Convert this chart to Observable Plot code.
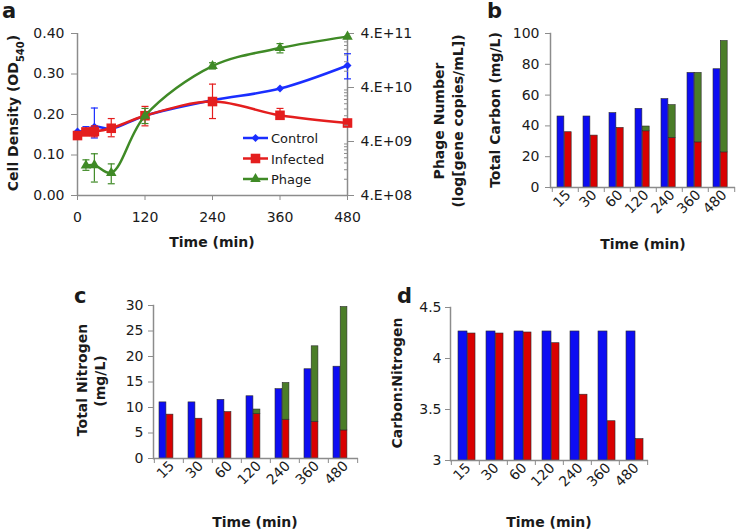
<!DOCTYPE html>
<html><head><meta charset="utf-8">
<script src="https://cdn.jsdelivr.net/npm/d3@7"></script>
<script src="https://cdn.jsdelivr.net/npm/@observablehq/plot@0.6"></script>
<style>
body{margin:0;background:#fff;}
#root{position:relative;width:746px;height:532px;overflow:hidden;background:#fff;}
</style></head><body><div id="root"></div>
<script>
// ---------- Panel a data ----------
const timeA = [0, 15, 30, 60, 120, 240, 360, 480];
const controlOD = [0.158, 0.160, 0.170, 0.165, 0.197, 0.235, 0.264, 0.321];
const controlLo = [null, 0.150, 0.142, null, null, null, null, 0.288];
const controlHi = [null, 0.170, 0.216, null, null, null, null, 0.350];
const infectedOD = [0.148, 0.157, 0.158, 0.166, 0.197, 0.232, 0.198, 0.179];
const infectedLo = [null, 0.150, 0.145, 0.145, 0.172, 0.190, 0.188, null];
const infectedHi = [null, 0.165, 0.172, 0.190, 0.220, 0.275, 0.215, null];
const timePhage = [15, 30, 60, 120, 240, 360, 480];
const phageNum = [1.44e9, 1.46e9, 1.05e9, 1.2e10, 1.0e11, 2.15e11, 3.5e11];
const phageLo = [1.17e9, 7.1e8, 6.6e8, 8.6e9, 8.8e10, 1.75e11, null];
const phageHi = [1.83e9, 2.37e9, 1.54e9, 1.64e10, 1.15e11, 2.6e11, null];
const xTicksA = [0, 120, 240, 360, 480];
const yTicksA = [0, 0.1, 0.2, 0.3, 0.4];
const phageTicks = [4e8, 4e9, 4e10, 4e11];
const phageTickLabels = ["4.E+08", "4.E+09", "4.E+10", "4.E+11"];
const seriesNames = ["Control", "Infected", "Phage"];

// ---------- Bar panels data ----------
const categories = ["15", "30", "60", "120", "240", "360", "480"];
const carbonControl = [46.1, 46.1, 48.3, 51.1, 57.4, 74.4, 76.8];
const carbonInfected = [35.9, 33.7, 38.7, 36.5, 32.2, 29.3, 22.8];
const carbonPhage = [0, 0, 0, 3.1, 21.3, 45.1, 72.3];
const carbonTicks = [0, 20, 40, 60, 80, 100];
const nitrogenControl = [11.0, 11.0, 11.5, 12.2, 13.6, 17.5, 18.0];
const nitrogenInfected = [8.6, 7.8, 9.1, 8.7, 7.6, 7.2, 5.5];
const nitrogenPhage = [0, 0, 0, 0.9, 7.2, 14.8, 24.2];
const nitrogenTicks = [0, 5, 10, 15, 20, 25, 30];
const ratioControl = [4.265, 4.265, 4.265, 4.265, 4.265, 4.265, 4.265];
const ratioInfected = [4.245, 4.245, 4.255, 4.15, 3.645, 3.385, 3.21];
const ratioTicks = [3, 3.5, 4, 4.5];

// ---------- styles ----------
const FONT = "DejaVu Sans, sans-serif";
const gray = "#8c8c8c";
const blue = "#1a2eff", red = "#e41e1e", green = "#3f8a26";
const barBlue = "#0d0df2", barRed = "#d90000", barGreen = "#4b7d28";
const styleBase = {fontFamily: FONT, fontSize: "14px", color: "#1a1a1a", background: "transparent", overflow: "visible"};
const root = document.getElementById("root");
function place(svg, left, top) {
  svg.style.position = "absolute"; svg.style.left = left + "px"; svg.style.top = top + "px";
  svg.style.overflow = "visible"; svg.style.maxWidth = "none";
  root.appendChild(svg); return svg;
}
const cap = {draw(ctx) { ctx.moveTo(-3.5, 0); ctx.lineTo(3.5, 0); }};

// ---------- Panel a (left axis, OD) ----------
const rowsA = timeA.map((t, i) => ({t, control: controlOD[i], cLo: controlLo[i], cHi: controlHi[i],
  infected: infectedOD[i], iLo: infectedLo[i], iHi: infectedHi[i]}));
const errC = rowsA.filter(d => d.cLo != null);
const errI = rowsA.filter(d => d.iLo != null);
const dimA = {width: 470, height: 240, marginLeft: 77, marginRight: 123, marginTop: 33, marginBottom: 45};

const plotA = Plot.plot({
  ...dimA, style: styleBase,
  x: {domain: [0, 480]}, y: {domain: [0, 0.4]},
  marks: [
    Plot.axisY({ticks: yTicksA, tickFormat: d3.format(".2f"), tickSize: 6, tickPadding: 7, label: null, stroke: gray}),
    Plot.axisX({ticks: xTicksA, tickSize: 5, tickPadding: 12, label: null, stroke: gray}),
    Plot.ruleX([0, 480], {stroke: gray, strokeWidth: 1.5}),
    Plot.ruleY([0], {stroke: gray, strokeWidth: 1.5}),
    Plot.ruleX(errC, {x: "t", y1: "cLo", y2: "cHi", stroke: blue, strokeWidth: 1.2}),
    Plot.dot(errC, {x: "t", y: "cLo", symbol: cap, stroke: blue, fill: "none", strokeWidth: 1.2}),
    Plot.dot(errC, {x: "t", y: "cHi", symbol: cap, stroke: blue, fill: "none", strokeWidth: 1.2}),
    Plot.line(rowsA, {x: "t", y: "control", stroke: blue, strokeWidth: 2.5, curve: "catmull-rom"}),
    Plot.dot(rowsA, {x: "t", y: "control", symbol: "diamond2", r: 3.6, fill: blue}),
    Plot.ruleX(errI, {x: "t", y1: "iLo", y2: "iHi", stroke: red, strokeWidth: 1.2}),
    Plot.dot(errI, {x: "t", y: "iLo", symbol: cap, stroke: red, fill: "none", strokeWidth: 1.2}),
    Plot.dot(errI, {x: "t", y: "iHi", symbol: cap, stroke: red, fill: "none", strokeWidth: 1.2}),
    Plot.line(rowsA, {x: "t", y: "infected", stroke: red, strokeWidth: 2.5, curve: "catmull-rom"}),
    Plot.dot(rowsA, {x: "t", y: "infected", symbol: "square", r: 5.4, fill: red})
  ]
});
place(plotA, 0, 0);

// ---------- Panel a (right axis, phage, log) ----------
const rowsP = timePhage.map((t, i) => ({t, v: phageNum[i], lo: phageLo[i], hi: phageHi[i]}));
const errP = rowsP.filter(d => d.lo != null);
const minorP = [];
for (const b of phageTicks.slice(0, 3)) for (const k of [2, 3, 4, 5, 6, 7, 8, 9]) minorP.push(b * k);
const plotP = Plot.plot({
  ...dimA, style: styleBase,
  x: {domain: [0, 480], axis: null},
  y: {type: "log", domain: [4e8, 4e11], axis: null},
  marks: [
    Plot.axisY({anchor: "right", ticks: phageTicks, tickFormat: () => "", tickSize: 6, label: null, stroke: gray}),
    Plot.axisY({anchor: "right", ticks: minorP, tickFormat: () => "", tickSize: 4, dx: -4, label: null, stroke: gray}),
    Plot.text(phageTicks, {x: 480, y: d => d, text: (d, i) => phageTickLabels[i], textAnchor: "start", dx: 13, fontSize: 14, fill: "#1a1a1a"}),
    Plot.ruleX(errP, {x: "t", y1: "lo", y2: "hi", stroke: green, strokeWidth: 1.2}),
    Plot.dot(errP, {x: "t", y: "lo", symbol: cap, stroke: green, fill: "none", strokeWidth: 1.2}),
    Plot.dot(errP, {x: "t", y: "hi", symbol: cap, stroke: green, fill: "none", strokeWidth: 1.2}),
    Plot.line(rowsP, {x: "t", y: "v", stroke: green, strokeWidth: 2.5, curve: "catmull-rom"}),
    Plot.dot(rowsP, {x: "t", y: "v", symbol: "triangle", r: 3.9, fill: green})
  ]
});
place(plotP, 0, 0);

// ---------- Bar panels ----------
function barPanel(o) {
  const bw = (o.width - o.ml - o.mr) / categories.length;
  const rows = categories.map((c, i) => ({c, ctrl: o.ctrl[i], inf: o.inf[i], ph: o.ph ? o.ph[i] : 0}));
  const base = o.ydomain[0];
  const marks = [
    Plot.axisY({ticks: o.yticks, tickFormat: d => String(d), tickSize: 5, tickPadding: o.tp, label: null, stroke: gray}),
    Plot.axisX({tickSize: 5, dx: -bw / 2, tickFormat: () => "", label: null, stroke: gray}),
    Plot.axisX({ticks: [categories[categories.length - 1]], tickSize: 5, dx: bw / 2, tickFormat: () => "", label: null, stroke: gray}),
    Plot.axisX({tickSize: 0, tickRotate: -45, tickPadding: o.xp, dx: 3, label: null}),
    Plot.barY(rows, {x: "c", y1: base, y2: "ctrl", fill: barBlue, stroke: "#2a2a2a", strokeWidth: 0.6,
      insetLeft: o.blue[0], insetRight: bw - o.blue[1]}),
    Plot.barY(rows, {x: "c", y1: base, y2: "inf", fill: barRed, stroke: "#2a2a2a", strokeWidth: 0.6,
      insetLeft: o.red[0], insetRight: bw - o.red[1]})
  ];
  if (o.ph) marks.push(Plot.barY(rows.filter(d => d.ph > 0), {x: "c", y1: "inf", y2: d => d.inf + d.ph,
      fill: barGreen, stroke: "#2a2a2a", strokeWidth: 0.6, insetLeft: o.red[0], insetRight: bw - o.red[1]}));
  marks.push(Plot.ruleY([base], {stroke: gray, strokeWidth: 1.5}));
  marks.push(Plot.frame({anchor: "left", stroke: gray, strokeWidth: 1.5}));
  return Plot.plot({width: o.width, height: o.height, marginLeft: o.ml, marginRight: o.mr,
    marginTop: o.mt, marginBottom: o.mb, style: styleBase,
    x: {domain: categories, padding: 0}, y: {domain: o.ydomain}, marks});
}
place(barPanel({width: 256, height: 250, ml: 60, mr: 11, mt: 33, mb: 63, ydomain: [0, 100], yticks: carbonTicks, tp: 6, xp: 5,
  ctrl: carbonControl, inf: carbonInfected, ph: carbonPhage, blue: [5, 12.3], red: [12.3, 19.6]}), 490, 0);
place(barPanel({width: 380, height: 282, ml: 153, mr: 22, mt: 55, mb: 74, ydomain: [0, 30], yticks: nitrogenTicks, tp: 5, xp: 5,
  ctrl: nitrogenControl, inf: nitrogenInfected, ph: nitrogenPhage, blue: [5, 12.2], red: [12.2, 19.2]}), 0, 250);
place(barPanel({width: 376, height: 282, ml: 80, mr: 98, mt: 57, mb: 72, ydomain: [3, 4.5], yticks: ratioTicks, tp: 4, xp: 5,
  ctrl: ratioControl, inf: ratioInfected, ph: null, blue: [7, 16.3], red: [16.3, 24.3]}), 370, 250);

// ---------- annotations ----------
const ann = d3.select(root).append("svg").attr("width", 746).attr("height", 532)
  .style("position", "absolute").style("left", "0px").style("top", "0px").style("pointer-events", "none");
function txt(o) {
  const t = ann.append("text").attr("transform", `translate(${o.x},${o.y}) rotate(${o.rotate || 0})`)
    .attr("text-anchor", o.anchor || "middle").attr("font-family", FONT).attr("font-size", o.size || 14)
    .attr("font-weight", o.weight || "bold").attr("fill", "#1a1a1a");
  if (o.text != null) t.text(o.text);
  return t;
}
// letters
txt({x: 2, y: 18, text: "a", anchor: "start", size: 21});
txt({x: 487, y: 18, text: "b", anchor: "start", size: 21});
txt({x: 74, y: 303, text: "c", anchor: "start", size: 21});
txt({x: 397, y: 303, text: "d", anchor: "start", size: 21});
// panel a titles
const cd = txt({x: 18, y: 113, rotate: -90});
cd.append("tspan").text("Cell Density (OD");
cd.append("tspan").attr("font-size", 10).attr("baseline-shift", "sub").text("540");
cd.append("tspan").text(")");
txt({x: 444, y: 121, rotate: -90, text: "Phage Number"});
txt({x: 463, y: 121, rotate: -90, text: "(log[gene copies/mL])"});
txt({x: 212, y: 247, text: "Time (min)"});
// legend
const legendSeries = [
  {name: seriesNames[0], color: blue, sym: d3.symbolDiamond2, size: 3.6 * 3.6 * Math.PI},
  {name: seriesNames[1], color: red, sym: d3.symbolSquare, size: 5.4 * 5.4 * Math.PI},
  {name: seriesNames[2], color: green, sym: d3.symbolTriangle, size: 3.9 * 3.9 * Math.PI}
];
legendSeries.forEach((s, i) => {
  const y = 138 + i * 20.5;
  ann.append("line").attr("x1", 243).attr("x2", 268).attr("y1", y).attr("y2", y).attr("stroke", s.color).attr("stroke-width", 2.5);
  ann.append("path").attr("d", d3.symbol(s.sym, s.size)()).attr("transform", `translate(255.5,${y})`).attr("fill", s.color);
  txt({x: 271, y: y + 5, text: s.name, anchor: "start", weight: "normal", size: 13});
});
// panel b
txt({x: 500, y: 110, rotate: -90, text: "Total Carbon (mg/L)"});
txt({x: 643, y: 249, text: "Time (min)"});
// panel c
txt({x: 87, y: 380, rotate: -90, text: "Total Nitrogen"});
txt({x: 105, y: 381, rotate: -90, text: "(mg/L)"});
txt({x: 255, y: 527, text: "Time (min)"});
// panel d
txt({x: 402, y: 383, rotate: -90, text: "Carbon:Nitrogen"});
txt({x: 549, y: 527, text: "Time (min)"});
</script>
</body></html>
